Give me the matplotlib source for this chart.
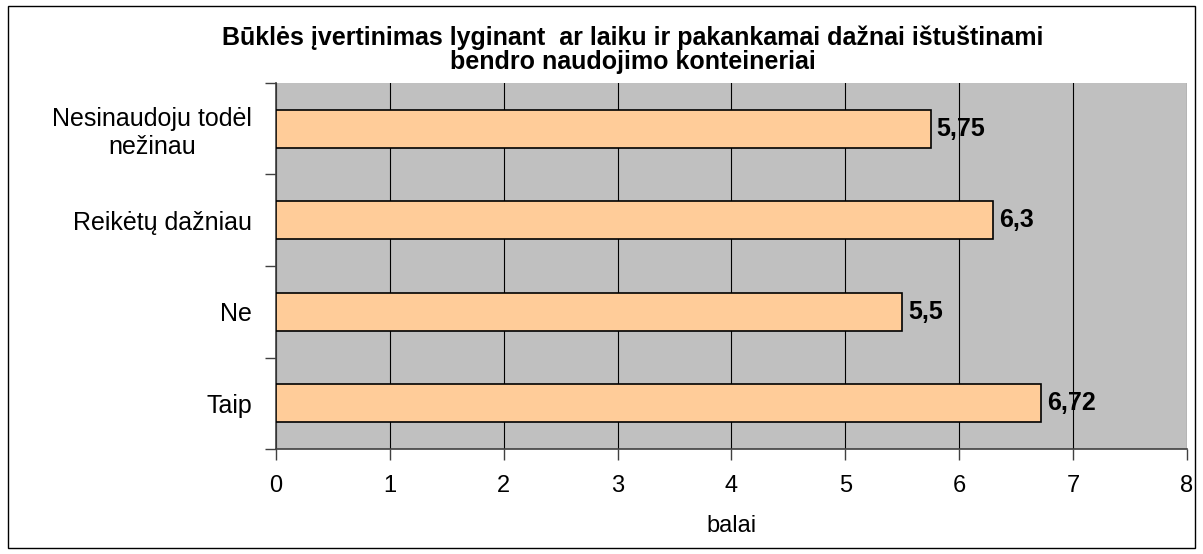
import numpy as np
import matplotlib.pyplot as plt
from matplotlib.patches import Rectangle

plt.rcParams['font.family'] = ['Liberation Sans', 'DejaVu Sans']

# data, bottom to top
categories = ['Taip', 'Ne', 'Reikėtų dažniau', 'Nesinaudoju todėl\nnežinau']
values = [6.72, 5.5, 6.3, 5.75]
value_labels = ['6,72', '5,5', '6,3', '5,75']
x_ticks = [0, 1, 2, 3, 4, 5, 6, 7, 8]

fig = plt.figure(figsize=(12.03, 5.54), dpi=100)
ax = fig.add_axes([0.2294, 0.1895, 0.7573, 0.6607])
ax.set_facecolor('#C0C0C0')

y = np.arange(len(categories))
ax.barh(y, values, height=0.42, color='#FFCC99', edgecolor='black', linewidth=1.2, zorder=3)

for yi, v, lab in zip(y, values, value_labels):
    ax.text(v + 0.05, yi, lab, va='center', ha='left', fontsize=18, fontweight='bold', zorder=4)

ax.set_xlim(0, 8)
ax.set_ylim(-0.5, len(categories) - 0.5)
ax.set_xticks(x_ticks)
ax.set_xticklabels([str(t) for t in x_ticks], fontsize=17)
ax.set_yticks(y)
ax.set_yticklabels(categories, fontsize=18, multialignment='center')
ax.set_yticks(np.arange(-0.5, len(categories), 1), minor=True)
ax.tick_params(axis='y', which='major', length=0, pad=17)
ax.tick_params(axis='y', which='minor', length=8, width=1, color='#404040', direction='out')
ax.tick_params(axis='x', length=8, width=1, color='#404040', pad=11)
ax.xaxis.grid(True, color='black', linewidth=0.8, zorder=1)
ax.set_axisbelow(True)
for s in ['top', 'right']:
    ax.spines[s].set_visible(False)
for s in ['left', 'bottom']:
    ax.spines[s].set_color('#404040')
    ax.spines[s].set_linewidth(1.2)

ax.set_xlabel('balai', fontsize=17, labelpad=13)

fig.text(0.526, 0.911, 'Būklės įvertinimas lyginant  ar laiku ir pakankamai dažnai ištuštinami\nbendro naudojimo konteineriai',
         ha='center', va='center', fontsize=18, fontweight='bold', linespacing=1.0)

fig.add_artist(Rectangle((8 / 1203, 6 / 554), 1187 / 1203, 542 / 554, transform=fig.transFigure,
                         fill=False, edgecolor='black', linewidth=1))

fig.savefig('out.png', dpi=100)
